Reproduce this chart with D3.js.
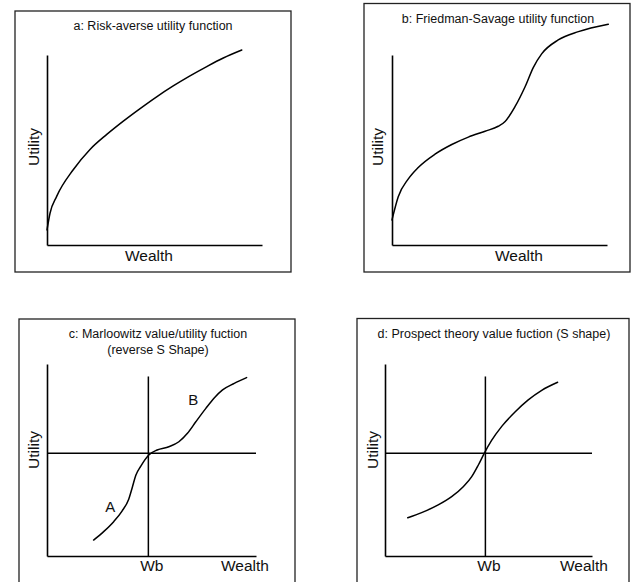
<!DOCTYPE html>
<html><head><meta charset="utf-8">
<script src="https://cdn.jsdelivr.net/npm/d3@7"></script>
<style>
body{margin:0;background:#fff}
svg{display:block}
text{font-family:"Liberation Sans",Arial,Helvetica,sans-serif;fill:#111}
</style></head>
<body><svg id="chart" width="635" height="582"></svg>
<script>
// ---- data (units: 0..100 along each axis) ----
const titleA = ["a: Risk-averse utility function"];
const titleB = ["b: Friedman-Savage utility function"];
const titleC = ["c: Marloowitz value/utility fuction", "(reverse S Shape)"];
const titleD = ["d: Prospect theory value fuction (S shape)"];
const xLabel = "Wealth";
const yLabel = "Utility";
const refTick = "Wb";
const refX = 48.5;   // Wb position
const refY = 53.5;   // reference utility level

const riskAverse = [[0,7.9],[1.4,16.7],[4.5,25.6],[12.2,39.6],[20,50.3],[27.8,58.2],[35.5,65.2],[43.3,71.8],[51,78.0],[58.7,83.7],[66.5,89.0],[74.3,93.9],[82,98.4],[90.6,102.6]];
const friedmanSavage = [[0,13.2],[2.9,25.4],[7.6,34.8],[12.2,40.8],[20,47.8],[27.8,52.9],[35.5,56.8],[43.3,59.9],[49.4,62.5],[52.6,65.0],[57.2,72.8],[61.9,83.3],[65.7,93.4],[69.6,100.6],[77.3,107.9],[86.7,112.3],[100.6,116.2]];
const markowitz = [[22.3,8.3],[27.1,12.7],[31.9,17.9],[35.9,23.4],[39.1,29.6],[40.9,36.1],[42.5,42.0],[44.9,46.8],[48.7,52.6],[52.7,55.2],[58.3,56.9],[63.1,59.5],[67.2,63.9],[71.2,69.9],[76,76.9],[80,82.3],[84,86.5],[89.6,89.9],[95.5,92.9]];
const prospect = [[11,19.9],[17.7,22.6],[25.7,26.6],[32.2,30.9],[37.8,36.1],[41.9,41.3],[45.1,47.4],[48,53.6],[51.5,60.2],[56.4,67.5],[62.8,75.0],[69.2,81.3],[75.7,86.3],[83.4,90.5]];
const markowitzLabels = [["A",30.3,23.1],["B",70,78.5]];

// ---- layout ----
const panels = [
  {title:titleA, curve:riskAverse, box:[15,11,291,272], ax:[47,262,245,55], tx:153, ty:30, wx:149, wy:261, ux:34, uy:147, ref:false},
  {title:titleB, curve:friedmanSavage, box:[364,3.5,630,272], ax:[392,607,245,55], tx:498, ty:23, wx:519, wy:261, ux:378, uy:147, ref:false},
  {title:titleC, curve:markowitz, box:[19,319,295,600], ax:[47,256,556,364], tx:158, ty:338, wx:245, wy:571, ux:34, uy:450, ref:true, labels:markowitzLabels},
  {title:titleD, curve:prospect, box:[357,318.5,629,600], ax:[385,592,556,364], tx:494, ty:338, wx:584, wy:571, ux:373, uy:450, ref:true}
];

const svg = d3.select("#chart");

panels.forEach(p => {
  const g = svg.append("g");
  const [bx0,by0,bx1,by1] = p.box;
  g.append("rect").attr("x",bx0).attr("y",by0).attr("width",bx1-bx0).attr("height",by1-by0)
    .attr("fill","none").attr("stroke","#222").attr("stroke-width",1.3);

  const [x0,x1,yb,yt] = p.ax;
  const x = d3.scaleLinear().domain([0,100]).range([x0,x1]);
  const y = d3.scaleLinear().domain([0,100]).range([yb,yt]);

  // title
  const t = g.append("text").attr("text-anchor","middle").style("font-size","12.5px");
  p.title.forEach((s,i)=> t.append("tspan").attr("x",p.tx).attr("y",p.ty + i*16).text(s));

  // axes
  const xAxis = d3.axisBottom(x).tickSizeOuter(0).tickSize(0).tickPadding(0)
    .tickValues(p.ref ? [refX] : []).tickFormat(()=>refTick);
  const gx = g.append("g").attr("transform",`translate(0,${yb})`).call(xAxis);
  gx.select(".domain").attr("stroke","#000").attr("stroke-width",1.6);
  gx.selectAll(".tick text").attr("fill","#111").attr("y",null).attr("dy",null)
    .attr("dx",3).attr("transform",`translate(0,${p.wy-yb})`)
    .style("font-size","15.5px").style("font-family",'"Liberation Sans",Arial,sans-serif');

  const yAxis = d3.axisLeft(y).tickSizeOuter(0).tickSize(0).tickValues([]);
  const gy = g.append("g").attr("transform",`translate(${x0},0)`).call(yAxis);
  gy.select(".domain").attr("stroke","#000").attr("stroke-width",1.6);

  if (p.ref) {
    g.append("line").attr("x1",x(0)).attr("x2",x(100)).attr("y1",y(refY)).attr("y2",y(refY))
      .attr("stroke","#000").attr("stroke-width",1.5);
    g.append("line").attr("x1",x(refX)).attr("x2",x(refX)).attr("y1",y(0)).attr("y2",y(93.5))
      .attr("stroke","#000").attr("stroke-width",1.5);
  }

  // axis labels
  g.append("text").attr("x",p.wx).attr("y",p.wy).attr("text-anchor","middle")
    .style("font-size","15.5px").text(xLabel);
  g.append("text").attr("transform",`translate(${p.ux},${p.uy}) rotate(-90)`)
    .attr("text-anchor","middle").attr("dy","0.35em").style("font-size","15.5px").text(yLabel);

  // curve
  const line = d3.line().x(d=>x(d[0])).y(d=>y(d[1])).curve(d3.curveMonotoneX);
  g.append("path").datum(p.curve).attr("d",line).attr("fill","none")
    .attr("stroke","#000").attr("stroke-width",1.5).attr("stroke-linecap","round");

  if (p.labels) {
    g.selectAll(".lbl").data(p.labels).enter().append("text")
      .attr("x",d=>x(d[1])).attr("y",d=>y(d[2])).attr("text-anchor","middle")
      .style("font-size","15px").text(d=>d[0]);
  }
});
</script>
</body></html>
